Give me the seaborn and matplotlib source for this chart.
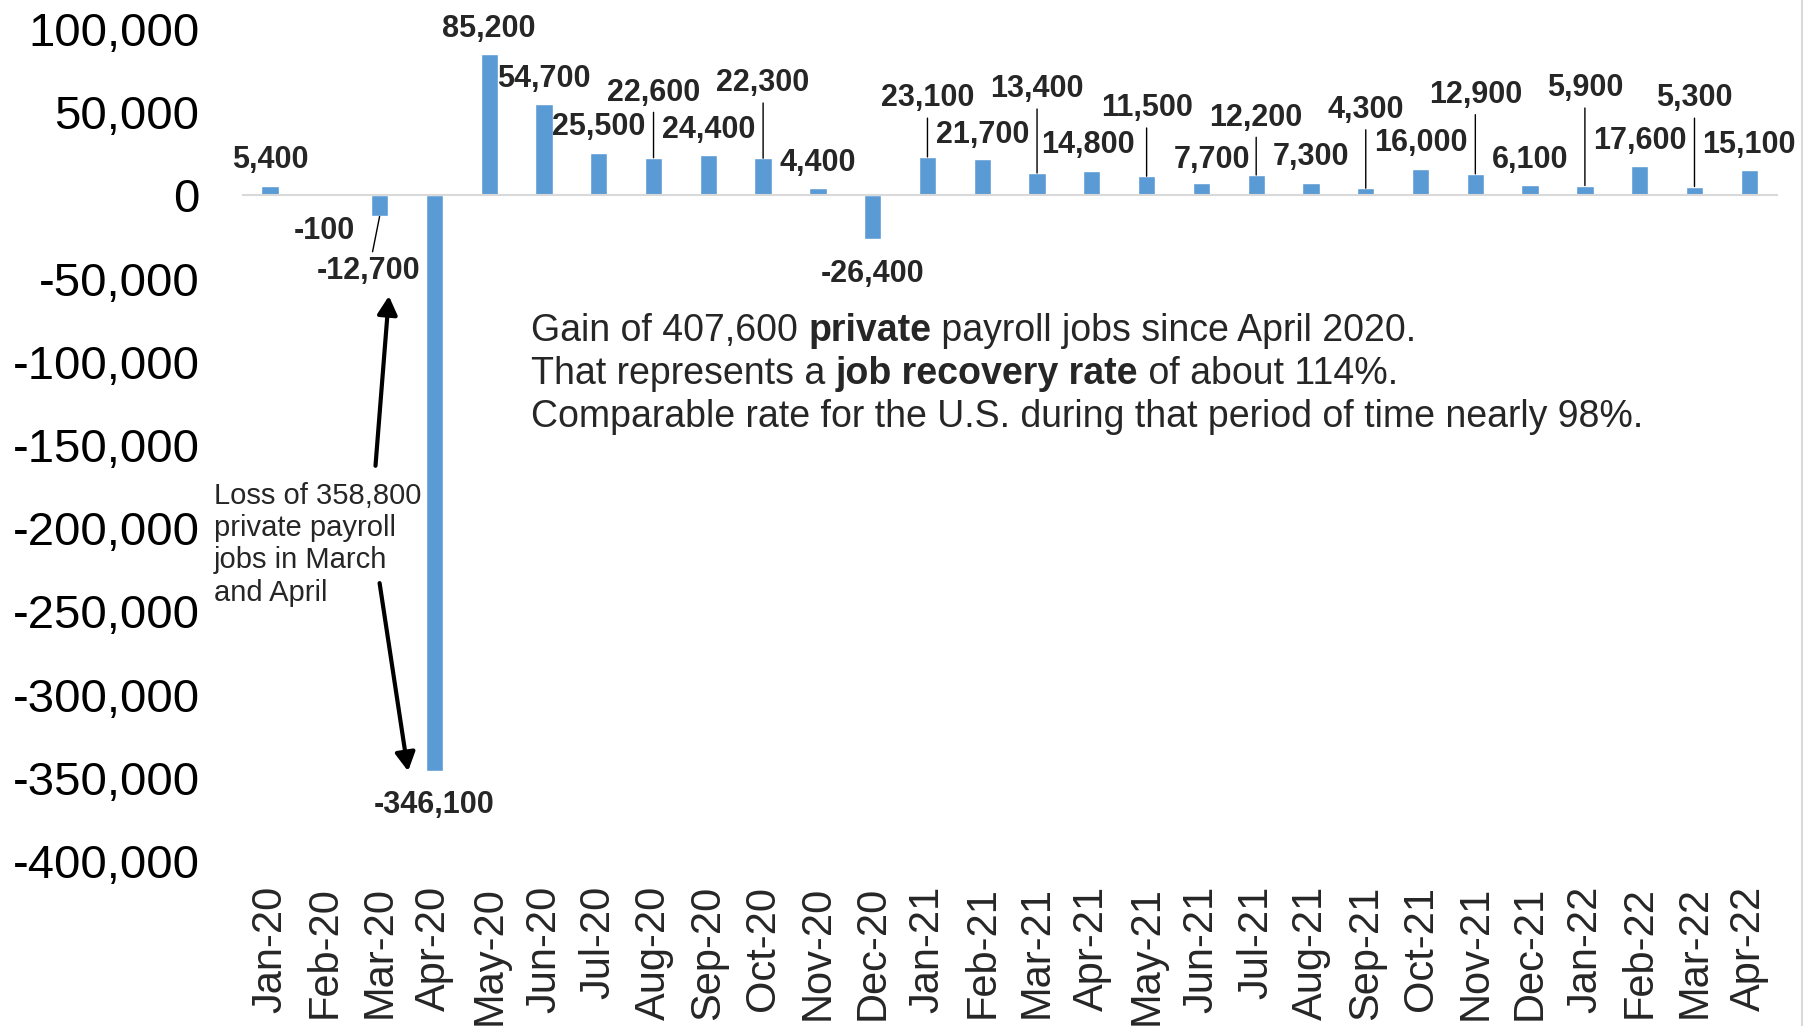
import numpy as np
import pandas as pd
import matplotlib
matplotlib.use("Agg")
import matplotlib.pyplot as plt
import seaborn as sns
from matplotlib.ticker import FuncFormatter, FixedLocator
from matplotlib.lines import Line2D

# ---------------- data ----------------
months = ["Jan-20", "Feb-20", "Mar-20", "Apr-20", "May-20", "Jun-20", "Jul-20",
          "Aug-20", "Sep-20", "Oct-20", "Nov-20", "Dec-20", "Jan-21", "Feb-21",
          "Mar-21", "Apr-21", "May-21", "Jun-21", "Jul-21", "Aug-21", "Sep-21",
          "Oct-21", "Nov-21", "Dec-21", "Jan-22", "Feb-22", "Mar-22", "Apr-22"]
jobs = [5400, -100, -12700, -346100, 85200, 54700, 25500, 22600, 24400, 22300,
        4400, -26400, 23100, 21700, 13400, 14800, 11500, 7700, 12200, 7300,
        4300, 16000, 12900, 6100, 5900, 17600, 5300, 15100]
y_ticks = list(range(-400000, 100001, 50000))

# ---------------- label layout (not data) ----------------
label_y = [21000, -21500, -45700, -366600, 99700, 69700, 40800, 61700, 39200, 67300,
           19600, -47100, 58200, 36200, 63700, 30200, 52300, 21200, 46700, 22800,
           51200, 31200, 60300, 21200, 64300, 32900, 58200, 30200]
label_dx = [0, 0, -0.2, 0, 0, 0, 0, 0, 0, 0,
            0, 0, 0, 0, 0, -0.08, 0, 0.2, 0, 0,
            0, 0, 0, 0, 0, 0, 0, 0]
leader = [False, False, True, False, False, False, False, True, False, True,
          False, False, True, False, True, False, True, False, True, False,
          True, False, True, False, True, False, True, False]

BLUE = "#5b9bd5"
GREY = "#d9d9d9"

sns.set_style("white")
plt.rcParams['font.family'] = ['Liberation Sans', 'DejaVu Sans']

fig = plt.figure(figsize=(18.12, 10.26), dpi=100)
ax = fig.add_axes([0.1339, 0.1608, 0.8466, 0.8110])

df = pd.DataFrame({"month": months, "jobs": jobs})
sns.barplot(data=df, x="month", y="jobs", color=BLUE, saturation=1, width=0.315, ax=ax)

ax.set_xlim(-0.5, len(months) - 0.5)
ax.set_ylim(-400000, 100000)
ax.set_xlabel("")
ax.set_ylabel("")
for s in ["top", "right", "left"]:
    ax.spines[s].set_visible(False)
ax.spines["bottom"].set_position(("data", 0))
ax.spines["bottom"].set_color(GREY)
ax.spines["bottom"].set_linewidth(1.5)
ax.xaxis.set_major_locator(FixedLocator(np.arange(-0.5, len(months), 1)))
ax.tick_params(axis="x", length=8.6, width=1.5, color=GREY, labelbottom=False, direction="out")

ax.set_yticks(y_ticks)
ax.yaxis.set_major_formatter(FuncFormatter(lambda v, p: f"{int(v):,}"))
ax.tick_params(axis="y", length=0, pad=31, labelsize=34, labelcolor="black")

sec = ax.secondary_xaxis("bottom")
sec.set_xticks(range(len(months)), labels=months)
sec.tick_params(length=0, pad=18, labelsize=30, rotation=90)
sec.spines["bottom"].set_visible(False)

# data labels
for i, (v, ly, dx, ld) in enumerate(zip(jobs, label_y, label_dx, leader)):
    txt = f"{v:,}"
    if ld:
        ax.annotate(txt, xy=(i, v), xytext=(i + dx, ly), ha="center", va="center",
                    fontsize=22, fontweight="bold", annotation_clip=False,
                    arrowprops=dict(arrowstyle="-", color="black", lw=1,
                                    shrinkA=1, shrinkB=0))
    else:
        ax.text(i + dx, ly, txt, ha="center", va="center", fontsize=22,
                fontweight="bold", clip_on=False)

# left annotation
ax.text(-1.03, -209600, "Loss of 358,800\nprivate payroll\njobs in March\nand April",
        ha="left", va="center", fontsize=21, linespacing=1.2, clip_on=False)
arrow_kw = dict(arrowstyle="-|>,head_length=0.55,head_width=0.3", lw=3, color="black",
                mutation_scale=20, shrinkA=0, shrinkB=0)
ax.annotate("", xy=(2.17, -60500), xytext=(1.925, -162500), arrowprops=arrow_kw,
            annotation_clip=False)
ax.annotate("", xy=(2.52, -346000), xytext=(2.0, -233000), arrowprops=arrow_kw,
            annotation_clip=False)

# rich text block
lines = [
    [("Gain of 407,600 ", "normal"), ("private", "bold"), (" payroll jobs since April 2020.", "normal")],
    [("That represents a ", "normal"), ("job recovery rate", "bold"), (" of about 114%.", "normal")],
    [("Comparable rate for the U.S. during that period of time nearly 98%.", "normal")],
]
line_y = [-81800, -107600, -133200]
for segs, yy in zip(lines, line_y):
    t = None
    for s, w in segs:
        if t is None:
            t = ax.text(4.76, yy, s, ha="left", va="center", fontsize=27, fontweight=w)
        else:
            t = ax.annotate(s, xy=(1, 0), xycoords=t, ha="left", va="bottom",
                            fontsize=27, fontweight=w)

fig.add_artist(Line2D([0.9943, 0.9943], [0, 1], transform=fig.transFigure, color=GREY, lw=1.5))

fig.savefig("out.png", dpi=100)
